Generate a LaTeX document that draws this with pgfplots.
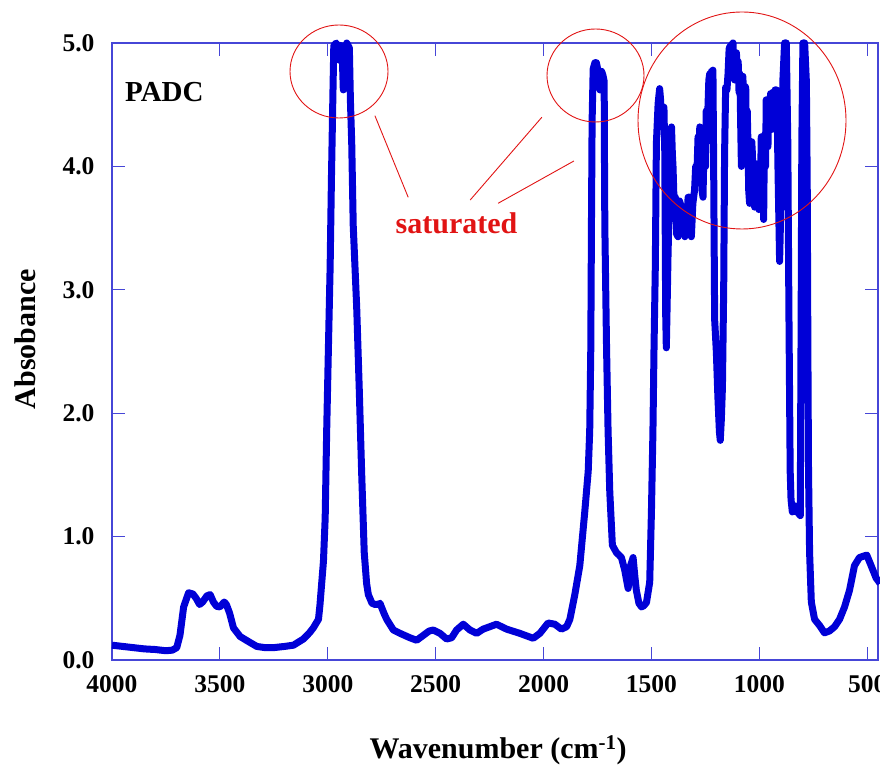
\documentclass[border=0pt]{standalone}
\usepackage{pgfplots}
\pgfplotsset{compat=1.18}
\usepackage{pgfplotstable}
\usepackage{fontspec}
\setmainfont{Liberation Serif}
\definecolor{specblue}{RGB}{0,0,215}
\definecolor{axblue}{RGB}{70,70,215}
\definecolor{annred}{RGB}{225,20,20}

\pgfplotstableread{
x y
4000 0.12
3950 0.11
3900 0.10
3850 0.09
3800 0.085
3750 0.075
3720 0.08
3700 0.10
3685 0.20
3668 0.43
3645 0.545
3625 0.535
3610 0.50
3594 0.45
3580 0.47
3560 0.52
3545 0.53
3530 0.47
3515 0.435
3500 0.43
3480 0.47
3470 0.45
3455 0.38
3437 0.26
3406 0.19
3368 0.15
3329 0.11
3290 0.10
3252 0.10
3200 0.11
3159 0.12
3113 0.17
3085 0.22
3067 0.26
3043 0.33
3036 0.45
3020 0.80
3012 1.15
3005 1.86
2997 2.53
2989 3.19
2983 3.90
2976 4.60
2972 4.98
2960 5.00
2952 4.95
2946 4.86
2940 4.98
2932 4.85
2928 4.62
2922 4.90
2912 5.00
2900 4.96
2895 4.53
2889 4.19
2882 3.52
2866 2.86
2854 2.19
2843 1.52
2831 0.87
2820 0.62
2812 0.53
2795 0.46
2781 0.45
2765 0.45
2758 0.46
2740 0.38
2727 0.33
2696 0.243
2665 0.216
2619 0.18
2588 0.16
2557 0.20
2530 0.235
2511 0.243
2480 0.216
2449 0.17
2426 0.18
2403 0.243
2372 0.29
2341 0.243
2310 0.216
2280 0.25
2218 0.29
2171 0.25
2110 0.216
2048 0.176
2017 0.216
1979 0.30
1948 0.29
1917 0.25
1893 0.27
1878 0.33
1855 0.53
1832 0.765
1809 1.20
1793 1.53
1786 1.86
1781 2.53
1778 3.52
1775 4.36
1770 4.79
1762 4.84
1755 4.84
1745 4.75
1739 4.62
1731 4.77
1725 4.74
1719 4.69
1718 4.19
1716 3.52
1708 2.53
1701 1.86
1693 1.36
1681 0.93
1662 0.87
1650 0.85
1639 0.83
1624 0.73
1608 0.58
1603 0.65
1597 0.765
1590 0.80
1585 0.83
1577 0.68
1570 0.565
1558 0.46
1546 0.43
1535 0.44
1523 0.466
1508 0.63
1500 1.20
1493 1.86
1488 2.53
1482 3.19
1477 4.19
1469 4.51
1462 4.63
1458 4.55
1454 4.32
1448 4.45
1442 4.48
1438 4.10
1434 2.81
1431 2.53
1427 2.90
1423 3.29
1415 3.89
1411 4.10
1407 4.32
1403 4.10
1400 4.00
1395 3.70
1389 3.75
1383 3.45
1377 3.43
1370 3.72
1361 3.67
1355 3.45
1350 3.65
1345 3.43
1338 3.51
1330 3.75
1323 3.75
1318 3.45
1315 3.43
1308 3.70
1300 3.81
1295 4.00
1290 3.90
1284 4.24
1280 3.90
1276 4.32
1270 4.10
1265 3.80
1261 3.75
1256 4.20
1253 4.24
1249 4.00
1246 4.45
1242 4.20
1238 4.48
1234 4.70
1230 4.75
1226 4.55
1222 4.77
1218 4.60
1215 4.78
1212 4.10
1207 2.76
1199 2.49
1192 2.13
1185 1.85
1181 1.78
1176 1.95
1171 2.21
1165 3.03
1161 4.10
1156 4.64
1150 4.62
1145 4.75
1140 4.95
1137 4.97
1130 4.98
1122 5.00
1118 4.75
1114 4.70
1110 4.90
1106 4.92
1102 4.70
1098 4.85
1094 4.60
1090 4.75
1086 4.30
1083 4.00
1080 4.50
1076 4.73
1072 4.35
1068 4.65
1063 4.64
1060 4.20
1056 4.45
1053 4.21
1049 3.80
1045 3.70
1041 4.10
1038 4.00
1035 4.20
1032 4.10
1028 3.75
1025 3.85
1022 3.67
1018 3.95
1014 4.02
1011 3.70
1008 3.85
1002 3.65
999 4.00
995 3.80
991 4.24
986 3.70
983 3.90
980 3.57
977 4.10
975 4.26
971 4.00
968 4.54
964 4.20
960 4.16
956 4.50
952 4.35
948 4.59
942 4.30
938 4.60
932 4.35
927 4.62
921 4.62
916 4.30
914 4.03
906 3.23
898 3.86
891 4.69
883 5.00
875 5.00
868 4.19
863 2.86
860 2.19
857 1.53
853 1.30
847 1.20
837 1.25
829 1.20
821 1.22
815 1.18
810 1.17
809 1.70
806 2.86
803 4.19
798 5.00
790 5.00
782 4.69
778 3.86
775 2.53
772 1.53
767 0.87
759 0.47
744 0.33
721 0.28
698 0.22
675 0.235
651 0.27
628 0.33
605 0.43
582 0.565
559 0.765
536 0.83
520 0.84
502 0.85
482 0.765
459 0.665
440 0.62
}\spectrum

\begin{document}
\begin{tikzpicture}
\begin{axis}[
  at={(112pt,105pt)}, anchor=south west,
  scale only axis, width=766pt, height=617pt,
  x dir=reverse, xmin=450, xmax=4000, ymin=0, ymax=5,
  xtick={500,1000,...,4000}, ytick={0,1,...,5},
  tick align=inside, tick pos=both, major tick length=13pt,
  axis line style={axblue, line width=1.2pt},
  major tick style={axblue, line width=1.2pt},
  clip=false,
  /pgf/number format/assume math mode=true,
  x tick label style={/pgf/number format/1000 sep={}},
  xticklabel style={font=\fontsize{25.5}{25.5}\selectfont\bfseries, yshift=-12pt},
  y tick label style={/pgf/number format/.cd, fixed, fixed zerofill, precision=1, /tikz/.cd},
  yticklabel style={font=\fontsize{25.5}{25.5}\selectfont\bfseries, xshift=-14pt},
  ylabel={Absobance},
  ylabel style={at={(axis description cs:-0.1136,0.52)}, anchor=center, font=\fontsize{30}{30}\selectfont\bfseries},
  xlabel={Wavenumber (cm\textsuperscript{-1})},
  xlabel style={at={(axis description cs:0.504,-0.159)}, anchor=base, font=\fontsize{30}{30}\selectfont\bfseries},
]
\addplot[specblue, line width=7pt, line join=round] table[x=x,y=y]{\spectrum};
\end{axis}
\draw[annred, line width=0.9pt] (339pt,693.5pt) ellipse [x radius=49pt, y radius=46.5pt];
\draw[annred, line width=0.9pt] (595.5pt,689.5pt) ellipse [x radius=48.5pt, y radius=46.5pt];
\draw[annred, line width=0.9pt] (742pt,644.5pt) ellipse [x radius=104pt, y radius=108.5pt];
\draw[annred, line width=0.9pt] (374.9pt,649.3pt) -- (408.2pt,567.7pt);
\draw[annred, line width=0.9pt] (541.8pt,647.7pt) -- (470.2pt,565pt);
\draw[annred, line width=0.9pt] (573.9pt,604pt) -- (498.1pt,561.7pt);
\node[annred, font=\fontsize{30}{30}\selectfont\bfseries, anchor=base, inner sep=0pt] at (456.5pt,531.7pt) {saturated};
\node[black, font=\fontsize{29}{29}\selectfont\bfseries, anchor=base west, inner sep=0pt] at (125pt,663.3pt) {PADC};
\pgfresetboundingbox
\useasboundingbox (0,0) rectangle (880pt,765pt);
\end{tikzpicture}
\end{document}
